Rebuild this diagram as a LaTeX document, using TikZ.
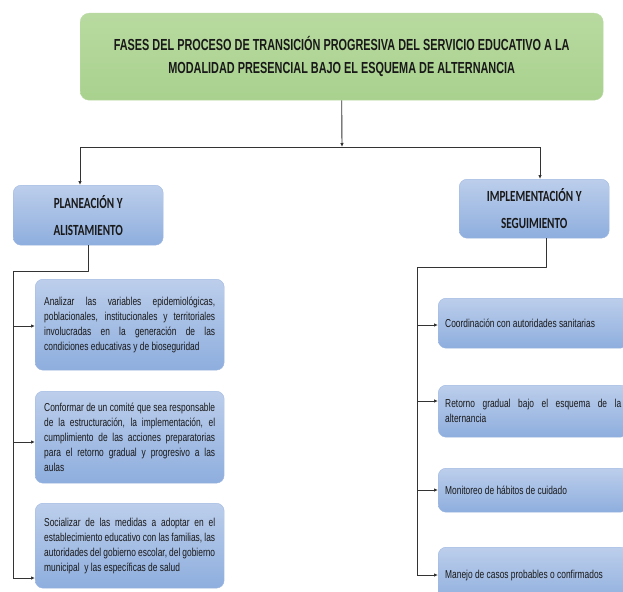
\documentclass[tikz,border=0pt]{standalone}
\usepackage{fontspec}
\setmainfont[FakeStretch=0.73]{Liberation Sans}
\newfontfamily\titlefont[FakeStretch=0.68]{Liberation Sans}
\newfontfamily\headfont[FakeStretch=0.72]{Carlito}
\usetikzlibrary{arrows.meta}
\hyphenpenalty=10000
\exhyphenpenalty=10000
\tolerance=9999

\definecolor{phasegreen}{RGB}{169,209,142}
\definecolor{phasegreenlt}{RGB}{184,218,160}
\definecolor{boxbluelt}{RGB}{188,206,235}
\definecolor{boxbluedk}{RGB}{142,174,222}
\definecolor{boxedge}{RGB}{160,185,225}
\definecolor{inkgray}{RGB}{25,25,25}

\tikzset{
  titlebox/.style={rounded corners=9pt, draw=phasegreen!80!white, top color=phasegreenlt, bottom color=phasegreen,
    minimum width=523pt, minimum height=87pt, anchor=north west, align=center, text=inkgray,
    font=\titlefont\bfseries\fontsize{16}{23}\selectfont},
  phasebox/.style={rounded corners=8pt, draw=boxedge, top color=boxbluelt, bottom color=boxbluedk,
    minimum width=150pt, minimum height=60pt, anchor=north west, align=center, text=inkgray,
    font=\headfont\bfseries\fontsize{15.5}{27}\selectfont},
  stepbox/.style={rounded corners=8pt, draw=boxedge, top color=boxbluelt, bottom color=boxbluedk,
    anchor=north west, align=justify, inner xsep=9pt, text=inkgray,
    font=\fontsize{11.5}{15}\selectfont},
  link/.style={draw=black!80, line width=0.9pt, line join=round},
  linkarrow/.style={link, -{Latex[length=4pt,width=3.5pt]}}
}

\begin{document}
\begin{tikzpicture}[x=1pt, y=-1pt]
    \clip (0,0) rectangle (623,591);
    \fill[white] (0,0) rectangle (623,591);

    % Title
    \node[titlebox] (title) at (80,13)
      {FASES DEL PROCESO DE TRANSICIÓN PROGRESIVA DEL SERVICIO EDUCATIVO A LA\\
       MODALIDAD PRESENCIAL BAJO EL ESQUEMA DE ALTERNANCIA};

    % Phases
    \node[phasebox] (plan) at (13,185) {PLANEACIÓN Y\\ALISTAMIENTO};
    \node[phasebox, minimum height=59pt] (impl) at (459,179) {IMPLEMENTACIÓN Y\\SEGUIMIENTO};

    % Steps of the first phase
    \node[stepbox, text width=171pt, minimum height=91pt] (lstep1) at (35,279)
      {Analizar las variables epidemiológicas, poblacionales, institucionales y territoriales involucradas en la generación de las condiciones educativas y de bioseguridad};
    \node[stepbox, text width=171pt, minimum height=92pt] (lstep2) at (35,391)
      {Conformar de un comité que sea responsable de la estructuración, la implementación, el cumplimiento de las acciones preparatorias para el retorno gradual y progresivo a las\linebreak aulas};
    \node[stepbox, text width=171pt, minimum height=85pt] (lstep3) at (35,503)
      {Socializar de las medidas a adoptar en el establecimiento educativo con las familias, las autoridades del gobierno escolar, del gobierno municipal\ \ y las específicas de salud};

    % Steps of the second phase
    \node[stepbox, inner xsep=7pt, text width=176pt, minimum height=50pt] (rstep1) at (438,298)
      {Coordinación con autoridades sanitarias};
    \node[stepbox, inner xsep=7pt, text width=176pt, minimum height=52pt] (rstep2) at (438,385)
      {Retorno gradual bajo el esquema de la alternancia};
    \node[stepbox, inner xsep=7pt, text width=176pt, minimum height=44pt] (rstep3) at (438,468)
      {Monitoreo de hábitos de cuidado};
    \node[stepbox, inner xsep=7pt, text width=176pt, minimum height=56pt] (rstep4) at (438,547)
      {Manejo de casos probables o confirmados};

    % Split below the title
    \coordinate (split) at (342,147);
    \coordinate (lturn) at (80,147);
    \coordinate (rturn) at (540,147);
    \draw[linkarrow] (title.south) -- (split);
    \draw[link] (lturn) -- (rturn);
    \draw[linkarrow] (lturn) -- (lturn |- plan.north);
    \draw[linkarrow] (rturn) -- (rturn |- impl.north);

    % Left spine
    \coordinate (ltop) at (13,271);
    \draw[link] (plan.south) |- (ltop) -- (13,578);
    \foreach \n/\y in {lstep1/326, lstep2/442, lstep3/578}
      \draw[linkarrow] (13,\y) -- (\n.west |- 13,\y);

    % Right spine
    \coordinate (rtop) at (417,267);
    \draw[link] (546,238) |- (rtop) -- (417,575);
    \foreach \n/\y in {rstep1/325, rstep2/401, rstep3/490, rstep4/575}
      \draw[linkarrow] (417,\y) -- (\n.west |- 417,\y);
\end{tikzpicture}
\end{document}
